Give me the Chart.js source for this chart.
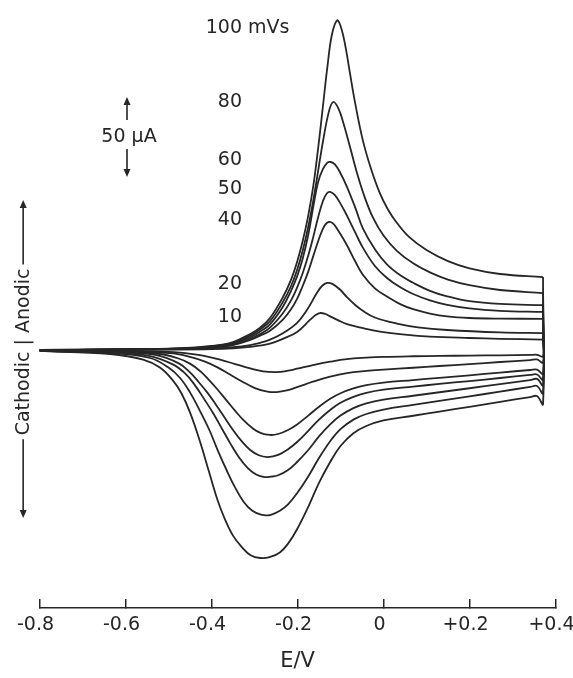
<!DOCTYPE html>
<html>
<head>
<meta charset="utf-8">
<title>Cyclic voltammograms at several scan rates</title>
<script src="https://cdn.jsdelivr.net/npm/chart.js@4.4.1/dist/chart.umd.min.js"></script>
<style>
  html, body { margin: 0; padding: 0; background: #fff; }
  #wrap { position: relative; width: 573px; height: 678px; }
</style>
</head>
<body>
<div id="wrap"><canvas id="cv"></canvas></div>
<script>
// ---------------- data ----------------
// scan rates (mV/s) and the text printed beside each peak
const rates = [100, 80, 60, 50, 40, 20, 10];
const rateLabels = ['100 mVs', '80', '60', '50', '40', '20', '10'];
const labelCurrents = [200.9, 154.7, 118.8, 100.3, 80.9, 40.9, 20.3];   // uA

// x axis
const eTicks = [-0.8, -0.6, -0.4, -0.2, 0, 0.2, 0.4];
const eTickLabels = ['-0.8', '-0.6', '-0.4', '-0.2', '0', '+0.2', '+0.4'];

// forward (anodic) sweeps, [E / V, i / uA]
const anodic100 = [[-0.80,0],[-0.62,0.4],[-0.48,1],[-0.40,2.5],[-0.35,5],[-0.310,10],[-0.287,14],[-0.264,20],[-0.234,33],[-0.215,44],[-0.201,55],[-0.188,68],[-0.175,84],[-0.163,103],[-0.152,126],[-0.141,152],[-0.130,178],[-0.120,197],[-0.108,206],[-0.098,201],[-0.088,189],[-0.078,173],[-0.065,153],[-0.048,131],[-0.030,114],[-0.010,99],[0.010,88],[0.031,79.5],[0.060,70.5],[0.100,62.5],[0.150,55.5],[0.200,51],[0.271,47.5],[0.371,45.6]];
const anodic80 = [[-0.80,0],[-0.62,0.4],[-0.48,0.9],[-0.40,2.3],[-0.35,4.5],[-0.310,9],[-0.287,13],[-0.264,18],[-0.234,30],[-0.215,40],[-0.201,50],[-0.188,62],[-0.175,77],[-0.163,94],[-0.152,112],[-0.141,130],[-0.127,149],[-0.117,155],[-0.105,151],[-0.094,142.5],[-0.078,127],[-0.062,111],[-0.045,96.5],[-0.025,83],[0,71.5],[0.031,62],[0.070,54],[0.108,48.5],[0.150,44],[0.200,40.5],[0.271,37.5],[0.371,35.6]];
const anodic60 = [[-0.80,0],[-0.62,0.3],[-0.48,0.8],[-0.40,2],[-0.35,4],[-0.310,8],[-0.287,11.5],[-0.264,16],[-0.234,27],[-0.215,37],[-0.201,46],[-0.188,57],[-0.175,72],[-0.163,90],[-0.152,105],[-0.141,113],[-0.131,117],[-0.123,117.5],[-0.113,116],[-0.100,110.5],[-0.085,102],[-0.065,88.5],[-0.048,76],[-0.020,63],[0.008,53.5],[0.040,46.5],[0.069,42],[0.108,37],[0.148,33.5],[0.200,30.5],[0.271,28.8],[0.371,28]];
const anodic50 = [[-0.80,0],[-0.62,0.3],[-0.48,0.8],[-0.40,1.8],[-0.35,3.6],[-0.310,7],[-0.287,10],[-0.264,14],[-0.234,23],[-0.215,31],[-0.201,39],[-0.188,48],[-0.175,59],[-0.163,71],[-0.152,83],[-0.141,93],[-0.132,97.8],[-0.124,98.8],[-0.113,96.8],[-0.100,91.5],[-0.085,84],[-0.065,73],[-0.048,64],[-0.020,52.5],[0.008,45],[0.040,39],[0.069,35],[0.108,31],[0.148,28.2],[0.200,26],[0.271,24.5],[0.371,23.8]];
const anodic40 = [[-0.80,0],[-0.62,0.3],[-0.48,0.7],[-0.40,1.6],[-0.35,3.1],[-0.310,6.3],[-0.287,9],[-0.264,12],[-0.234,19],[-0.215,25.5],[-0.201,32],[-0.188,40],[-0.175,49],[-0.163,59],[-0.152,68],[-0.143,74.5],[-0.135,78.5],[-0.127,80],[-0.117,79],[-0.105,74.5],[-0.085,65.5],[-0.065,55],[-0.048,47],[-0.020,38.5],[0.008,33.5],[0.040,28.5],[0.069,25.5],[0.108,22.8],[0.148,21],[0.200,20],[0.271,19.6],[0.371,19.5]];
const anodic20 = [[-0.80,0],[-0.62,0.2],[-0.48,0.5],[-0.40,1],[-0.35,1.8],[-0.310,3.1],[-0.287,4.5],[-0.264,6.5],[-0.234,10.5],[-0.201,17],[-0.178,25],[-0.155,35.6],[-0.143,40],[-0.131,41.9],[-0.118,41.2],[-0.100,37.5],[-0.085,33],[-0.065,28],[-0.048,24.5],[-0.020,20.3],[0.031,16.5],[0.080,14.2],[0.148,12.5],[0.271,11],[0.371,10.6]];
const anodic10 = [[-0.80,0],[-0.62,0.1],[-0.48,0.3],[-0.40,0.6],[-0.35,1.1],[-0.310,1.9],[-0.287,2.8],[-0.264,4],[-0.234,7],[-0.201,11.3],[-0.171,18.8],[-0.157,22],[-0.148,23.1],[-0.135,22.5],[-0.124,21],[-0.105,18.5],[-0.085,16.2],[-0.050,13.8],[-0.008,11.5],[0.050,9.6],[0.108,8.4],[0.200,7.5],[0.271,7],[0.371,6.5]];

// reverse (cathodic) sweeps, from the switching potential back to -0.8 V
const cathodic100 = [[0.371,-33.8],[0.357,-28.8],[0.341,-29.4],[0.271,-32.4],[0.200,-35.5],[0.130,-38.5],[0.069,-41.1],[0,-44],[-0.040,-47.5],[-0.070,-52],[-0.100,-60],[-0.124,-70],[-0.150,-83],[-0.175,-98],[-0.201,-112],[-0.222,-121],[-0.241,-126.5],[-0.265,-129.5],[-0.287,-130],[-0.308,-128.5],[-0.330,-123],[-0.350,-116],[-0.370,-105],[-0.387,-93],[-0.407,-75],[-0.427,-57],[-0.450,-39],[-0.470,-27],[-0.490,-19],[-0.520,-11],[-0.559,-6],[-0.636,-2.5],[-0.80,-0.6]];
const cathodic80 = [[0.371,-27],[0.357,-22.5],[0.341,-23.1],[0.271,-26],[0.200,-29],[0.130,-31.8],[0.069,-34.3],[0,-37.2],[-0.040,-40],[-0.070,-43.5],[-0.100,-49.5],[-0.124,-57],[-0.150,-67.5],[-0.175,-79],[-0.201,-89.5],[-0.222,-96.5],[-0.241,-100.5],[-0.262,-103],[-0.283,-103.1],[-0.305,-100.5],[-0.325,-95],[-0.345,-86],[-0.365,-75],[-0.385,-63],[-0.405,-50],[-0.427,-38],[-0.450,-26.5],[-0.473,-17.5],[-0.500,-11],[-0.543,-5],[-0.636,-1.9],[-0.80,-0.6]];
const cathodic60 = [[0.371,-22],[0.357,-18.1],[0.341,-18.8],[0.271,-21.3],[0.200,-23.9],[0.130,-26.4],[0.069,-28.6],[0,-31],[-0.040,-33.3],[-0.070,-36.3],[-0.100,-41],[-0.124,-46.5],[-0.150,-54],[-0.175,-62.5],[-0.201,-70],[-0.222,-75],[-0.245,-78.3],[-0.262,-79.2],[-0.276,-79.4],[-0.295,-78],[-0.315,-74],[-0.335,-67.5],[-0.355,-59],[-0.375,-49.5],[-0.395,-40],[-0.415,-31.5],[-0.440,-21.5],[-0.462,-14.5],[-0.490,-9],[-0.543,-3.8],[-0.636,-1.6],[-0.80,-0.6]];
const cathodic50 = [[0.371,-18.5],[0.357,-15.3],[0.341,-15.6],[0.271,-17.5],[0.200,-19.4],[0.130,-21.2],[0.069,-22.9],[0,-24.8],[-0.040,-26.8],[-0.070,-29.3],[-0.100,-33],[-0.124,-37.5],[-0.150,-43.5],[-0.175,-50.5],[-0.201,-57.5],[-0.222,-62],[-0.245,-65.6],[-0.269,-66.9],[-0.290,-65.8],[-0.310,-62.5],[-0.330,-57],[-0.350,-50],[-0.370,-42],[-0.390,-34],[-0.410,-26.5],[-0.430,-20],[-0.450,-14],[-0.475,-8.5],[-0.531,-3.1],[-0.636,-1.3],[-0.80,-0.6]];
const cathodic40 = [[0.371,-14.8],[0.357,-12.2],[0.341,-12.5],[0.271,-14.1],[0.200,-15.8],[0.130,-17.4],[0.069,-18.8],[0,-20.4],[-0.040,-22],[-0.070,-24],[-0.100,-27],[-0.124,-30.5],[-0.150,-35.5],[-0.175,-41],[-0.201,-46.5],[-0.222,-50],[-0.245,-52.5],[-0.264,-53.1],[-0.285,-52],[-0.305,-48.8],[-0.325,-44],[-0.345,-38],[-0.365,-31.5],[-0.385,-25],[-0.405,-19],[-0.425,-13.5],[-0.450,-8.5],[-0.480,-5],[-0.520,-2.5],[-0.636,-1.3],[-0.80,-0.6]];
const cathodic20 = [[0.371,-7.8],[0.357,-5.9],[0.341,-6.3],[0.271,-7.5],[0.200,-8.8],[0.130,-10],[0.069,-11.1],[0,-12.3],[-0.040,-13.1],[-0.085,-14.4],[-0.124,-16.6],[-0.164,-19.8],[-0.201,-23.2],[-0.225,-25.3],[-0.248,-26.3],[-0.270,-26],[-0.299,-23.8],[-0.330,-19.5],[-0.357,-15.3],[-0.385,-11],[-0.415,-7.3],[-0.450,-4.3],[-0.497,-2],[-0.636,-0.9],[-0.80,-0.6]];
const cathodic10 = [[0.371,-3.9],[0.357,-3],[0.341,-3.1],[0.271,-3.3],[0.200,-3.5],[0.130,-3.7],[0.069,-3.9],[0,-4.3],[-0.040,-4.8],[-0.085,-5.7],[-0.124,-7.3],[-0.164,-9.4],[-0.201,-11.7],[-0.225,-13.1],[-0.250,-13.8],[-0.280,-13.3],[-0.310,-11.5],[-0.345,-8.8],[-0.380,-6],[-0.420,-3.5],[-0.473,-1.6],[-0.550,-0.8],[-0.636,-0.6],[-0.80,-0.5]];

const sweeps = {
  100: [anodic100, cathodic100],
  80: [anodic80, cathodic80],
  60: [anodic60, cathodic60],
  50: [anodic50, cathodic50],
  40: [anodic40, cathodic40],
  20: [anodic20, cathodic20],
  10: [anodic10, cathodic10]
};

// ---------------- look ----------------
const ink = '#262626';
const face = '"DejaVu Sans", "Liberation Sans", sans-serif';

// where the annotations sit, in data units
const notePos = {
  labelE: -0.329,                 // right edge of the scan-rate numbers
  barE: -0.5965, barTop: 158.1, barSize: 50,   // 50 uA scale bar
  sideE: -0.838, sideI: -1.2, sideTop: 93.75, sideBottom: -105
};

function arrowHead(ctx, x, yTip, dir) {   // dir -1 = points up, 1 = points down
  ctx.beginPath();
  ctx.moveTo(x, yTip);
  ctx.lineTo(x - 3.5, yTip - dir * 8);
  ctx.lineTo(x + 3.5, yTip - dir * 8);
  ctx.closePath();
  ctx.fill();
}

const notes = {
  id: 'notes',
  afterDatasetsDraw(chart) {
    const {ctx, scales: {x, y}} = chart;
    ctx.save();
    ctx.fillStyle = ink;
    ctx.strokeStyle = ink;
    ctx.lineWidth = 1.6;
    ctx.font = '19px ' + face;
    ctx.textBaseline = 'middle';

    // scan rate labels, numbers lined up on their right edge
    const numRight = x.getPixelForValue(notePos.labelE);
    ctx.textAlign = 'left';
    rateLabels.forEach((t, k) => {
      const num = t.split(' ')[0];
      ctx.fillText(t, numRight - ctx.measureText(num).width, y.getPixelForValue(labelCurrents[k]));
    });

    // 50 uA scale bar
    const bx = x.getPixelForValue(notePos.barE);
    const bTop = y.getPixelForValue(notePos.barTop);
    const bBot = y.getPixelForValue(notePos.barTop - notePos.barSize);
    const bMid = (bTop + bBot) / 2;
    ctx.textAlign = 'center';
    ctx.fillText('50 \u00b5A', bx + 2, bMid);
    ctx.beginPath();
    ctx.moveTo(bx, bTop + 4); ctx.lineTo(bx, bMid - 17);
    ctx.moveTo(bx, bMid + 12); ctx.lineTo(bx, bBot - 4);
    ctx.stroke();
    arrowHead(ctx, bx, bTop, -1);
    arrowHead(ctx, bx, bBot, 1);

    // Cathodic | Anodic
    const sideText = 'Cathodic | Anodic';
    const sx = x.getPixelForValue(notePos.sideE);
    const sy = y.getPixelForValue(notePos.sideI);
    const half = ctx.measureText(sideText).width / 2;
    ctx.save();
    ctx.translate(sx, sy);
    ctx.rotate(-Math.PI / 2);
    ctx.textAlign = 'center';
    ctx.fillText(sideText, 0, 1);
    ctx.restore();
    const sTop = y.getPixelForValue(notePos.sideTop);
    const sBot = y.getPixelForValue(notePos.sideBottom);
    ctx.beginPath();
    ctx.moveTo(sx, sy - half - 4); ctx.lineTo(sx, sTop + 4);
    ctx.moveTo(sx, sy + half + 4); ctx.lineTo(sx, sBot - 4);
    ctx.stroke();
    arrowHead(ctx, sx, sTop, -1);
    arrowHead(ctx, sx, sBot, 1);
    ctx.restore();
  }
};

// ---------------- chart ----------------
const toXY = arr => arr.map(p => ({x: p[0], y: p[1]}));
const lineStyle = {
  showLine: true,
  borderColor: ink,
  borderWidth: 1.8,
  pointRadius: 0,
  fill: false,
  tension: 0.4
};

const datasets = [];
rates.forEach(r => {
  const fwd = sweeps[r][0];
  const rev = [fwd[fwd.length - 1]].concat(sweeps[r][1]);   // vertical drop at the switching potential
  datasets.push(Object.assign({label: r + ' mV/s anodic', data: toXY(fwd)}, lineStyle));
  datasets.push(Object.assign({label: r + ' mV/s cathodic', data: toXY(rev)}, lineStyle));
});

const config = {
  type: 'scatter',
  data: {datasets: datasets},
  options: {
    responsive: true,
    maintainAspectRatio: false,
    animation: false,
    layout: {padding: {left: 39.5, right: 17.5, top: 8, bottom: 0}},
    plugins: {
      legend: {display: false},
      tooltip: {enabled: false}
    },
    scales: {
      x: {
        type: 'linear',
        min: -0.8,
        max: 0.4,
        afterBuildTicks: s => { s.ticks = eTicks.map(v => ({value: v})); },
        afterFit: s => { s.paddingRight = 0; s.height = 70; },
        grid: {drawOnChartArea: false, drawTicks: true, tickLength: -9, color: ink, lineWidth: 1.5},
        border: {display: true, color: ink, width: 1.5},
        ticks: {
          color: ink,
          font: {family: face, size: 19},
          padding: 15,
          labelOffset: -4,
          maxRotation: 0,
          autoSkip: false,
          callback: (v, i) => eTickLabels[i]
        },
        title: {
          display: true,
          text: 'E/V',
          color: ink,
          font: {family: face, size: 21, lineHeight: 1.2},
          padding: {top: 12.6, bottom: 3.4}
        }
      },
      y: {
        type: 'linear',
        display: false,
        min: -161.25,
        max: 213.75
      }
    }
  },
  plugins: [notes]
};

const cv = document.getElementById('cv');
const chart = new Chart(cv, config);
</script>
</body>
</html>
